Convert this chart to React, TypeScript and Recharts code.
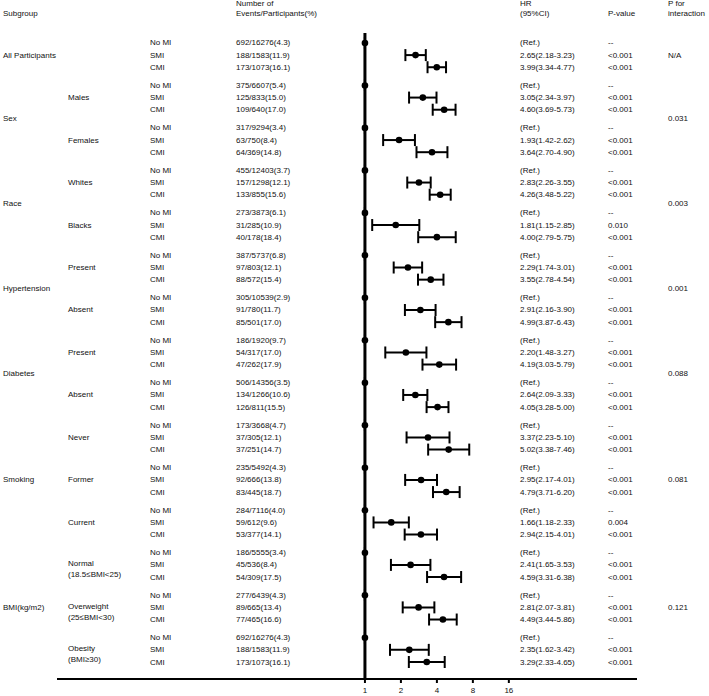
import { ComposedChart, Scatter, XAxis, YAxis, ErrorBar, ReferenceLine } from "recharts";

const levels = ["No MI", "SMI", "CMI"];

const groupNames = ["All Participants", "Sex", "Race", "Hypertension", "Diabetes", "Smoking", "BMI(kg/m2)"];
const pInteraction = ["N/A", "0.031", "0.003", "0.001", "0.088", "0.081", "0.121"];

const subgroupNames = ["", "Males", "Females", "Whites", "Blacks", "Present", "Absent", "Present", "Absent", "Never", "Former", "Current", "Normal", "Overweight", "Obesity"];
const subgroupNotes = ["", "", "", "", "", "", "", "", "", "", "", "", "(18.5≤BMI<25)", "(25≤BMI<30)", "(BMI≥30)"];
const subgroupGroup = [0, 1, 1, 2, 2, 3, 3, 4, 4, 5, 5, 5, 6, 6, 6];

const events = [
  ["692/16276(4.3)", "188/1583(11.9)", "173/1073(16.1)"],
  ["375/6607(5.4)", "125/833(15.0)", "109/640(17.0)"],
  ["317/9294(3.4)", "63/750(8.4)", "64/369(14.8)"],
  ["455/12403(3.7)", "157/1298(12.1)", "133/855(15.6)"],
  ["273/3873(6.1)", "31/285(10.9)", "40/178(18.4)"],
  ["387/5737(6.8)", "97/803(12.1)", "88/572(15.4)"],
  ["305/10539(2.9)", "91/780(11.7)", "85/501(17.0)"],
  ["186/1920(9.7)", "54/317(17.0)", "47/262(17.9)"],
  ["506/14356(3.5)", "134/1266(10.6)", "126/811(15.5)"],
  ["173/3668(4.7)", "37/305(12.1)", "37/251(14.7)"],
  ["235/5492(4.3)", "92/666(13.8)", "83/445(18.7)"],
  ["284/7116(4.0)", "59/612(9.6)", "53/377(14.1)"],
  ["186/5555(3.4)", "45/536(8.4)", "54/309(17.5)"],
  ["277/6439(4.3)", "89/665(13.4)", "77/465(16.6)"],
  ["692/16276(4.3)", "188/1583(11.9)", "173/1073(16.1)"],
];

// SMI, CMI (No MI is the reference)
const hrValues = [
  [2.65, 3.99], [3.05, 4.6], [1.93, 3.64], [2.83, 4.26], [1.81, 4.0],
  [2.29, 3.55], [2.91, 4.99], [2.2, 4.19], [2.64, 4.05], [3.37, 5.02],
  [2.95, 4.79], [1.66, 2.94], [2.41, 4.59], [2.81, 4.49], [2.35, 3.29],
];
const ciLower = [
  [2.18, 3.34], [2.34, 3.69], [1.42, 2.7], [2.26, 3.48], [1.15, 2.79],
  [1.74, 2.78], [2.16, 3.87], [1.48, 3.03], [2.09, 3.28], [2.23, 3.38],
  [2.17, 3.71], [1.18, 2.15], [1.65, 3.31], [2.07, 3.44], [1.62, 2.33],
];
const ciUpper = [
  [3.23, 4.77], [3.97, 5.73], [2.62, 4.9], [3.55, 5.22], [2.85, 5.75],
  [3.01, 4.54], [3.9, 6.43], [3.27, 5.79], [3.33, 5.0], [5.1, 7.46],
  [4.01, 6.2], [2.33, 4.01], [3.53, 6.38], [3.81, 5.86], [3.42, 4.65],
];
const pValues = [
  ["<0.001", "<0.001"], ["<0.001", "<0.001"], ["<0.001", "<0.001"], ["<0.001", "<0.001"], ["0.010", "<0.001"],
  ["<0.001", "<0.001"], ["<0.001", "<0.001"], ["<0.001", "<0.001"], ["<0.001", "<0.001"], ["<0.001", "<0.001"],
  ["<0.001", "<0.001"], ["0.004", "<0.001"], ["<0.001", "<0.001"], ["<0.001", "<0.001"], ["<0.001", "<0.001"],
];

const xTicks = [1, 2, 4, 8, 16];

const FONT = "'Liberation Sans', Arial, sans-serif";
const GROUP_STEP = 3.5;

const rows = subgroupNames.flatMap((_, k) =>
  levels.map((level, i) => {
    const pos = k * GROUP_STEP + i;
    if (i === 0) {
      return { hr: 1, pos, err: [0, 0], level, events: events[k][0], hrText: "(Ref.)", p: "--", ref: true };
    }
    const hr = hrValues[k][i - 1];
    const lo = ciLower[k][i - 1];
    const hi = ciUpper[k][i - 1];
    return {
      hr,
      pos,
      err: [hr - lo, hi - hr],
      level,
      events: events[k][i],
      hrText: `${hr.toFixed(2)}(${lo.toFixed(2)}-${hi.toFixed(2)})`,
      p: pValues[k][i - 1],
      ref: false,
    };
  })
);

const subgroupRows = subgroupNames.map((name, k) => ({
  hr: 1,
  pos: k * GROUP_STEP + 1,
  name,
  note: subgroupNotes[k],
}));

const groupRows = groupNames.map((name, g) => {
  const ks = subgroupGroup.map((gg, k) => (gg === g ? k : -1)).filter((k) => k >= 0);
  const mid = (ks[0] + ks[ks.length - 1]) / 2;
  return { hr: 1, pos: mid * GROUP_STEP + 1, name, p: pInteraction[g] };
});

const txt = { fontSize: 8, fontFamily: FONT, fill: "#111" };

const RowShape = (props: any) => {
  const { cx, cy, payload } = props;
  return (
    <g>
      <circle cx={cx} cy={cy} r={3.3} fill="#000" />
      <text x={150} y={cy} dominantBaseline="central" style={txt}>{payload.level}</text>
      <text x={236} y={cy} dominantBaseline="central" style={txt}>{payload.events}</text>
      <text x={520} y={cy} dominantBaseline="central" style={txt}>{payload.hrText}</text>
      <text x={608} y={cy} dominantBaseline="central" style={txt}>{payload.p}</text>
    </g>
  );
};

const SubgroupShape = (props: any) => {
  const { cy, payload } = props;
  if (!payload.name) return <g />;
  return (
    <g>
      <text x={68} y={payload.note ? cy - 1 : cy} dominantBaseline="central" style={txt}>{payload.name}</text>
      {payload.note && (
        <text x={68} y={cy + 10} dominantBaseline="central" style={txt}>{payload.note}</text>
      )}
    </g>
  );
};

const GroupShape = (props: any) => {
  const { cy, payload } = props;
  return (
    <g>
      <text x={3} y={cy} dominantBaseline="central" style={txt}>{payload.name}</text>
      <text x={668} y={cy} dominantBaseline="central" style={txt}>{payload.p}</text>
    </g>
  );
};

const App = () => {
  return (
    <div style={{ position: "relative", width: 709, height: 696, background: "#fff" }}>
      <style>{"body{margin:0}"}</style>
      <ComposedChart width={709} height={696} margin={{ top: 33, right: 72, bottom: 0, left: 57 }}>
        <XAxis
          dataKey="hr"
          type="number"
          scale="log"
          domain={[0.00265, 189]}
          ticks={xTicks}
          interval={0}
          height={17}
          tickSize={4}
          tickMargin={4}
          axisLine={{ stroke: "#000", strokeWidth: 2 }}
          tickLine={{ stroke: "#000", strokeWidth: 2 }}
          tick={{ fontSize: 8, fill: "#111", fontFamily: FONT }}
        />
        <YAxis dataKey="pos" type="number" domain={[-0.82, 52.4]} reversed hide />
        <ReferenceLine x={1} stroke="#000" strokeWidth={3} />
        <Scatter data={groupRows} shape={GroupShape} isAnimationActive={false} />
        <Scatter data={subgroupRows} shape={SubgroupShape} isAnimationActive={false} />
        <Scatter data={rows} shape={RowShape} isAnimationActive={false}>
          <ErrorBar dataKey="err" direction="x" width={6} strokeWidth={2} stroke="#000" />
        </Scatter>
      </ComposedChart>
      <svg width={709} height={30} style={{ position: "absolute", left: 0, top: 0, pointerEvents: "none" }}>
        <text x={3} y={13} dominantBaseline="central" style={txt}>Subgroup</text>
        <text x={236} y={3} dominantBaseline="central" style={txt}>Number of</text>
        <text x={236} y={13} dominantBaseline="central" style={txt}>Events/Participants(%)</text>
        <text x={520} y={3} dominantBaseline="central" style={txt}>HR</text>
        <text x={520} y={13} dominantBaseline="central" style={txt}>(95%CI)</text>
        <text x={608} y={13} dominantBaseline="central" style={txt}>P-value</text>
        <text x={668} y={3} dominantBaseline="central" style={txt}>P for</text>
        <text x={668} y={13} dominantBaseline="central" style={txt}>interaction</text>
      </svg>
    </div>
  );
};

export default App;
